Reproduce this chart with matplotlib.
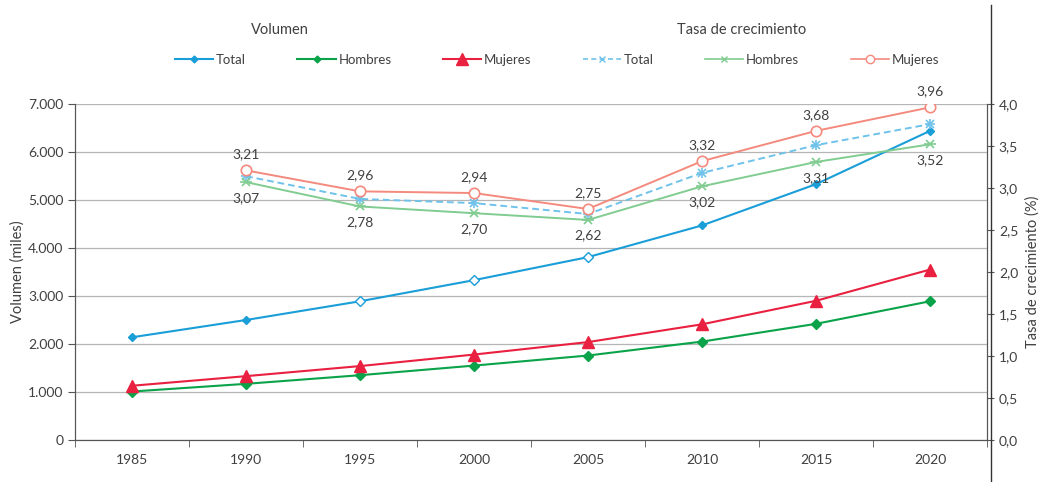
import matplotlib

matplotlib.use("Agg")
import matplotlib.pyplot as plt
import numpy as np
from matplotlib.lines import Line2D

plt.rcParams["font.family"] = ["Lato", "DejaVu Sans"]

years = ["1985", "1990", "1995", "2000", "2005", "2010", "2015", "2020"]

# Volumen (miles)
vol_total = [2140, 2500, 2890, 3330, 3810, 4470, 5330, 6440]
vol_hombres = [1010, 1170, 1350, 1550, 1760, 2050, 2420, 2890]
vol_mujeres = [1130, 1330, 1540, 1780, 2040, 2410, 2900, 3550]

# Tasa de crecimiento (%) from 1990 onwards
rate_years = years[1:]
rate_total = [3.14, 2.87, 2.82, 2.69, 3.18, 3.51, 3.76]
rate_hombres = [3.07, 2.78, 2.70, 2.62, 3.02, 3.31, 3.52]
rate_mujeres = [3.21, 2.96, 2.94, 2.75, 3.32, 3.68, 3.96]

C_TOTAL = "#1a9ed8"
C_HOM = "#0aa34a"
C_MUJ = "#e9203f"
C_RTOTAL = "#6fc2ea"
C_RHOM = "#80cc91"
C_RMUJ = "#f48a7e"
TXT = "#404040"

fig = plt.figure(figsize=(10.43, 4.82), dpi=100)
ax = fig.add_axes([75 / 1043, 42 / 482, 912 / 1043, 336 / 482])
ax2 = ax.twinx()

x = np.arange(len(years))
xr = x[1:]

# volume series
ax.plot(x, vol_total, color=C_TOTAL, lw=1.5, marker="D", ms=4.5, zorder=3)
hollow = [2, 3, 4]
ax.plot(x[hollow], np.array(vol_total)[hollow], ls="none", marker="D", ms=5,
        mfc="white", mec=C_TOTAL, mew=1.0, zorder=4)
ax.plot(x, vol_hombres, color=C_HOM, lw=1.5, marker="D", ms=5, zorder=3)
ax.plot(x, vol_mujeres, color=C_MUJ, lw=1.5, marker="^", ms=8.5, zorder=3)

# growth series
ax2.plot(xr, rate_total, color=C_RTOTAL, lw=1.4, ls=(0, (3.5, 2)), marker="x", ms=6, mew=1.2)
ax2.plot(xr, rate_total, ls="none", marker="+", ms=7, mew=1.2, color=C_RTOTAL)
ax2.plot(xr, rate_hombres, color=C_RHOM, lw=1.4, marker="x", ms=6, mew=1.2)
ax2.plot(xr, rate_hombres, ls="none", marker="_", ms=8, mew=1.2, color=C_RHOM)
ax2.plot(xr, rate_mujeres, color=C_RMUJ, lw=1.4, marker="o", ms=7.5, mfc="white", mew=1.2)

for xi, v in zip(xr, rate_mujeres):
    ax2.annotate(f"{v:.2f}".replace(".", ","), (xi, v), xytext=(0, 7), textcoords="offset points",
                 ha="center", va="bottom", fontsize=10, color=TXT)
for xi, v in zip(xr, rate_hombres):
    ax2.annotate(f"{v:.2f}".replace(".", ","), (xi, v), xytext=(0, -7), textcoords="offset points",
                 ha="center", va="top", fontsize=10, color=TXT)

ax.set_xlim(-0.5, len(years) - 0.5)
ax.set_ylim(0, 7000)
ax2.set_ylim(0, 4.0)

ax.set_xticks(x)
ax.set_xticklabels(years)
ax.set_xticks(np.arange(-0.5, len(years)), minor=True)
ax.tick_params(axis="x", which="major", length=0, pad=10, labelsize=10, labelcolor=TXT)
ax.tick_params(axis="x", which="minor", length=5, color="#555555")

ax.set_yticks(np.arange(0, 7001, 1000))
ax.set_yticklabels([f"{v:,}".replace(",", ".") for v in range(0, 7001, 1000)])
ax.tick_params(axis="y", length=5, labelsize=10, labelcolor=TXT, color="#555555")
ax2.set_yticks(np.arange(0, 4.01, 0.5))
ax2.set_yticklabels([f"{v:.1f}".replace(".", ",") for v in np.arange(0, 4.01, 0.5)])
ax2.tick_params(axis="y", length=5, labelsize=10, labelcolor=TXT, color="#555555")

ax.grid(axis="y", color="#b5b5b5", lw=0.9)
ax.set_axisbelow(True)

for a in (ax, ax2):
    for s in a.spines.values():
        s.set_color("#555555")
    a.spines["top"].set_visible(False)

ax.set_ylabel("Volumen (miles)", fontsize=10.5, color=TXT, labelpad=2)
ax2.set_ylabel("Tasa de crecimiento (%)", fontsize=10.5, color=TXT, labelpad=5)

# long separator line on the right
fig.add_artist(Line2D([991 / 1043, 991 / 1043], [0, 1 - 5 / 482], color="#333333", lw=1.0))

# legend
handles = [
    Line2D([], [], color=C_TOTAL, lw=1.5, marker="D", ms=3.5),
    Line2D([], [], color=C_HOM, lw=1.5, marker="D", ms=3.5),
    Line2D([], [], color=C_MUJ, lw=1.5, marker="^", ms=8),
    Line2D([], [], color=C_RTOTAL, lw=1.2, ls=(0, (3, 2)), marker="x", ms=5),
    Line2D([], [], color=C_RHOM, lw=1.2, marker="x", ms=5),
    Line2D([], [], color=C_RMUJ, lw=1.2, marker="o", ms=6, mfc="white"),
]
labels = ["Total", "Hombres", "Mujeres", "Total", "Hombres", "Mujeres"]
fig.legend(handles, labels, loc="center", bbox_to_anchor=(557 / 1043, 1 - 60 / 482), ncol=6,
           frameon=False, fontsize=9.5, handlelength=2.9, handletextpad=0.2, columnspacing=3.9,
           labelcolor=TXT)
fig.text(280 / 1043, 1 - 30 / 482, "Volumen", ha="center", va="center", fontsize=10.5, color=TXT)
fig.text(742 / 1043, 1 - 30 / 482, "Tasa de crecimiento", ha="center", va="center", fontsize=10.5, color=TXT)

fig.savefig("out.png", dpi=100)
